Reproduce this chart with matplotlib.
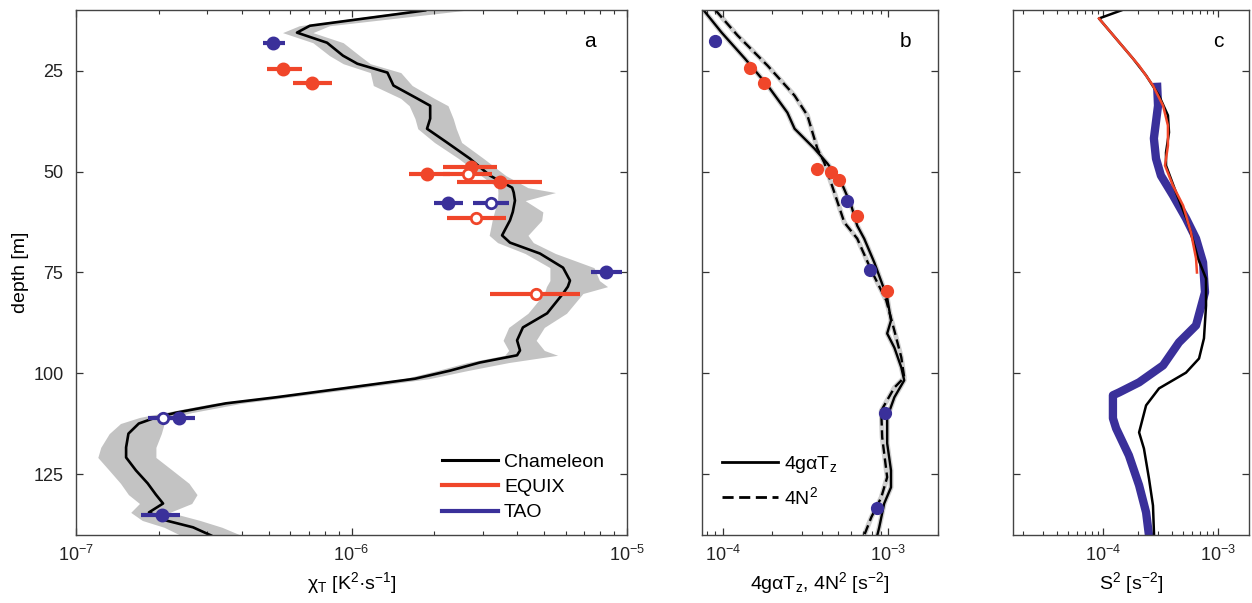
import matplotlib
matplotlib.use('Agg')
import matplotlib.pyplot as plt
import numpy as np
from matplotlib.ticker import LogLocator, NullFormatter, NullLocator
from matplotlib.lines import Line2D

plt.rcParams['font.family'] = ['Liberation Sans', 'DejaVu Sans']
plt.rcParams['mathtext.default'] = 'regular'

RED = '#F0462A'
BLUE = '#3A309A'
GRAY = '#C3C3C3'

# ---------------- Panel a : chi_T ----------------
cham_depth = [10.1, 13.9, 15.6, 18.1, 21.3, 23.3, 25.5, 28.7, 31.9, 33.7, 36.9, 39.4, 42.8, 46.8,
              51.0, 54.0, 55.2, 57.2, 60.0, 62.1, 65.8, 67.6, 70.3, 73.8, 77.0, 78.5, 80.2, 85.1,
              88.6, 91.8, 94.3, 95.5, 97.3, 99.3, 101.3, 103.7, 105.9, 107.4, 109.7, 110.9, 112.4,
              114.9, 118.3, 120.8, 124.0, 127.2, 130.0, 132.2, 134.4, 136.4, 138.1, 140.1]
cham_chi = [1.85e-6, 7.06e-7, 6.34e-7, 8.15e-7, 9.31e-7, 1.05e-6, 1.35e-6, 1.42e-6, 1.73e-6, 1.93e-6,
            1.93e-6, 1.88e-6, 2.22e-6, 2.69e-6, 3.18e-6, 3.83e-6, 3.88e-6, 3.92e-6, 3.85e-6, 3.76e-6,
            3.52e-6, 3.76e-6, 4.83e-6, 5.86e-6, 6.21e-6, 6.10e-6, 5.86e-6, 5.13e-6, 4.19e-6, 3.99e-6,
            4.09e-6, 3.99e-6, 2.92e-6, 2.28e-6, 1.70e-6, 9.31e-7, 5.32e-7, 3.50e-7, 2.31e-7, 1.95e-7,
            1.69e-7, 1.55e-7, 1.52e-7, 1.52e-7, 1.65e-7, 1.82e-7, 1.95e-7, 2.07e-7, 1.84e-7, 2.12e-7,
            2.66e-7, 3.09e-7]
cham_lo = [1.66e-6, 6.46e-7, 5.62e-7, 7.24e-7, 8.32e-7, 9.33e-7, 1.17e-6, 1.20e-6, 1.51e-6, 1.62e-6,
           1.70e-6, 1.74e-6, 2.00e-6, 2.45e-6, 2.95e-6, 3.39e-6, 3.40e-6, 3.39e-6, 3.30e-6, 3.24e-6,
           3.16e-6, 3.39e-6, 4.27e-6, 5.25e-6, 5.25e-6, 5.10e-6, 5.01e-6, 4.37e-6, 3.72e-6, 3.55e-6,
           3.72e-6, 3.60e-6, 2.63e-6, 2.04e-6, 1.55e-6, 8.51e-7, 4.90e-7, 3.16e-7, 2.09e-7, 1.70e-7,
           1.45e-7, 1.32e-7, 1.23e-7, 1.20e-7, 1.32e-7, 1.45e-7, 1.55e-7, 1.70e-7, 1.58e-7, 1.74e-7,
           2.09e-7, 2.40e-7]
cham_hi = [2.57e-6, 8.32e-7, 7.24e-7, 9.33e-7, 1.07e-6, 1.17e-6, 1.51e-6, 1.66e-6, 2.00e-6, 2.24e-6,
           2.34e-6, 2.40e-6, 2.51e-6, 3.02e-6, 3.63e-6, 4.37e-6, 5.50e-6, 4.27e-6, 4.95e-6, 4.90e-6,
           4.37e-6, 4.57e-6, 5.50e-6, 7.59e-6, 7.94e-6, 8.50e-6, 6.92e-6, 6.03e-6, 5.01e-6, 4.68e-6,
           5.01e-6, 5.60e-6, 3.72e-6, 2.63e-6, 1.91e-6, 1.05e-6, 5.89e-7, 3.98e-7, 2.63e-7, 2.24e-7,
           2.09e-7, 2.04e-7, 1.95e-7, 1.95e-7, 2.24e-7, 2.57e-7, 2.75e-7, 2.63e-7, 2.19e-7, 2.82e-7,
           3.39e-7, 3.98e-7]

equix_f_depth = [24.5, 28.0, 49.0, 50.7, 52.7]
equix_f_chi = [5.64e-7, 7.19e-7, 2.72e-6, 1.88e-6, 3.46e-6]
equix_f_lo = [4.93e-7, 6.14e-7, 2.15e-6, 1.62e-6, 2.42e-6]
equix_f_hi = [6.61e-7, 8.49e-7, 3.37e-6, 2.28e-6, 4.91e-6]
equix_o_depth = [50.7, 61.6, 80.4]
equix_o_chi = [2.65e-6, 2.83e-6, 4.68e-6]
equix_o_lo = [2.15e-6, 2.22e-6, 3.18e-6]
equix_o_hi = [3.24e-6, 3.64e-6, 6.75e-6]
tao_f_depth = [18.1, 57.7, 74.8, 111.1, 135.0]
tao_f_chi = [5.19e-7, 2.24e-6, 8.40e-6, 2.37e-7, 2.05e-7]
tao_f_lo = [4.78e-7, 1.99e-6, 7.39e-6, 2.07e-7, 1.72e-7]
tao_f_hi = [5.74e-7, 2.54e-6, 9.59e-6, 2.70e-7, 2.39e-7]
tao_o_depth = [57.7, 111.1]
tao_o_chi = [3.21e-6, 2.07e-7]
tao_o_lo = [2.76e-6, 1.82e-7]
tao_o_hi = [3.73e-6, 2.34e-7]

# ---------------- Panel b : 4 g alpha Tz, 4 N^2 ----------------
tz_depth = [10.1, 15.6, 22.0, 28.7, 35.4, 39.4, 44.3, 48.0, 52.7, 58.4, 63.4, 66.6, 72.5, 81.2,
            86.9, 90.1, 93.6, 98.5, 101.7, 105.9, 110.9, 117.3, 124.0, 128.2, 132.2, 138.1, 140.1]
tz_val = [7.69e-5, 9.86e-5, 1.36e-4, 1.87e-4, 2.46e-4, 2.72e-4, 3.58e-4, 4.29e-4, 5.21e-4, 5.98e-4,
          6.50e-4, 7.16e-4, 8.24e-4, 9.86e-4, 1.04e-3, 9.86e-4, 1.09e-3, 1.20e-3, 1.25e-3, 1.09e-3,
          9.86e-4, 9.86e-4, 1.04e-3, 1.04e-3, 9.46e-4, 8.83e-4, 8.59e-4]
n2_depth = [10.1, 16.3, 23.8, 31.2, 36.1, 44.3, 47.8, 55.2, 62.6, 66.6, 74.5, 81.9, 89.4, 96.0,
            101.0, 103.5, 109.2, 115.8, 125.7, 130.7, 135.6, 140.1]
n2_val = [9.07e-5, 1.23e-4, 1.87e-4, 2.72e-4, 3.25e-4, 3.73e-4, 4.11e-4, 4.73e-4, 5.43e-4, 6.50e-4,
          7.91e-4, 9.73e-4, 1.09e-3, 1.20e-3, 1.25e-3, 1.09e-3, 9.08e-4, 9.20e-4, 9.86e-4, 9.08e-4,
          7.91e-4, 7.16e-4]
b_equix_depth = [24.3, 28.0, 49.3, 50.2, 52.0, 61.1, 79.5]
b_equix_val = [1.46e-4, 1.77e-4, 3.73e-4, 4.54e-4, 5.07e-4, 6.50e-4, 9.86e-4]
b_tao_depth = [17.8, 57.4, 74.3, 109.7, 133.2]
b_tao_val = [8.95e-5, 5.66e-4, 7.80e-4, 9.59e-4, 8.59e-4]

# ---------------- Panel c : S^2 ----------------
s2_cham_depth = [10.1, 12.1, 17.1, 22.0, 26.2, 31.2, 36.1, 40.3, 45.3, 48.5, 55.2, 62.6, 71.5, 76.5,
                 83.2, 91.3, 96.3, 99.8, 103.7, 107.9, 114.6, 118.6, 126.0, 132.7, 140.1]
s2_cham_val = [1.44e-4, 9.23e-5, 1.30e-4, 1.82e-4, 2.37e-4, 3.07e-4, 3.67e-4, 3.75e-4, 3.53e-4, 3.53e-4,
               4.32e-4, 5.48e-4, 6.70e-4, 7.87e-4, 7.87e-4, 7.55e-4, 6.84e-4, 5.27e-4, 3.07e-4, 2.37e-4,
               2.06e-4, 2.27e-4, 2.51e-4, 2.72e-4, 2.78e-4]
s2_equix_depth = [12.1, 17.1, 23.8, 28.7, 33.7, 38.6, 43.6, 48.5, 53.5, 58.4, 65.1, 71.5, 75.0]
s2_equix_val = [9.23e-5, 1.30e-4, 2.06e-4, 2.72e-4, 3.33e-4, 3.67e-4, 3.67e-4, 3.46e-4, 4.06e-4, 4.97e-4,
                5.82e-4, 6.44e-4, 6.56e-4]
s2_tao_depth = [28.0, 33.7, 41.8, 46.8, 51.0, 55.9, 61.6, 66.6, 72.5, 79.9, 88.1, 92.3, 98.0, 102.2,
                104.7, 105.4, 111.1, 113.6, 120.3, 127.7, 134.4, 140.1]
s2_tao_val = [2.95e-4, 3.01e-4, 2.77e-4, 2.89e-4, 3.19e-4, 4.06e-4, 5.27e-4, 6.44e-4, 7.41e-4, 7.71e-4,
              6.44e-4, 4.58e-4, 3.33e-4, 2.06e-4, 1.38e-4, 1.22e-4, 1.22e-4, 1.30e-4, 1.68e-4, 2.06e-4,
              2.37e-4, 2.51e-4]

depth_ticks = [25, 50, 75, 100, 125]

fig = plt.figure(figsize=(12.52, 6.03), dpi=100)
W, H = 1252, 603
def axes_px(x0, x1, y0, y1):
    return fig.add_axes([x0 / W, 1 - y1 / H, (x1 - x0) / W, (y1 - y0) / H])

ax_a = axes_px(76, 627, 10, 535)
ax_b = axes_px(702, 938, 10, 535)
ax_c = axes_px(1013, 1249, 10, 535)

def style(ax, xlim, ylabels=True):
    ax.set_xscale('log')
    ax.set_xlim(*xlim)
    ax.set_ylim(140, 10)
    ax.set_yticks(depth_ticks)
    ax.yaxis.set_minor_locator(NullLocator())
    ax.xaxis.set_major_locator(LogLocator(base=10, numticks=12))
    ax.xaxis.set_minor_locator(LogLocator(base=10, subs=np.arange(2, 10), numticks=12))
    ax.xaxis.set_minor_formatter(NullFormatter())
    ax.tick_params(which='both', direction='in', top=True, right=True,
                   color='#333333', labelcolor='#222222', labelsize=13)
    ax.tick_params(which='major', length=5, width=0.9)
    ax.tick_params(which='minor', length=3, width=0.8)
    ax.tick_params(axis='x', pad=7)
    ax.tick_params(axis='y', pad=9, labelleft=ylabels)
    for s in ax.spines.values():
        s.set_color('#444444')
        s.set_linewidth(1.0)

# ---- panel a
style(ax_a, (1e-7, 1e-5))
ax_a.fill_betweenx(cham_depth, cham_lo, cham_hi, color=GRAY, lw=0, zorder=1)
ax_a.plot(cham_chi, cham_depth, color='black', lw=1.9, zorder=2)

def ebar(ax, d, c, lo, hi, color, filled):
    c = np.array(c); lo = np.array(lo); hi = np.array(hi)
    ax.errorbar(c, d, xerr=[c - lo, hi - c], fmt='o', color=color, ecolor=color,
                elinewidth=3, capsize=0, ms=8 if filled else 7.5,
                mfc=color if filled else 'white', mec=color, mew=2, zorder=4)

ebar(ax_a, equix_f_depth, equix_f_chi, equix_f_lo, equix_f_hi, RED, True)
ebar(ax_a, equix_o_depth, equix_o_chi, equix_o_lo, equix_o_hi, RED, False)
ebar(ax_a, tao_f_depth, tao_f_chi, tao_f_lo, tao_f_hi, BLUE, True)
ebar(ax_a, tao_o_depth, tao_o_chi, tao_o_lo, tao_o_hi, BLUE, False)

handles = [Line2D([], [], color='black', lw=2.2), Line2D([], [], color=RED, lw=3),
           Line2D([], [], color=BLUE, lw=3)]
ax_a.legend(handles, ['Chameleon', 'EQUIX', 'TAO'], loc='upper left',
            bbox_to_anchor=(0.664, 0.156), frameon=False, fontsize=14, borderpad=0,
            borderaxespad=0, handlelength=2.9, handletextpad=0.3, labelspacing=0.4)
ax_a.set_ylabel('depth [m]', fontsize=14, labelpad=3)
ax_a.set_xlabel('χ$_T$ [K$^2$·s$^{-1}$]', fontsize=14, labelpad=4)
ax_a.text(0.933, 0.94, 'a', transform=ax_a.transAxes, fontsize=15, ha='center', va='center')

# ---- panel b
style(ax_b, (7.5e-5, 2e-3), ylabels=False)
ax_b.plot(tz_val, tz_depth, color='#CFCFCF', lw=3.6, zorder=1, solid_capstyle='round')
ax_b.plot(n2_val, n2_depth, color='#CFCFCF', lw=3.6, zorder=1, solid_capstyle='round')
ax_b.plot(tz_val, tz_depth, color='black', lw=1.7, zorder=2)
ax_b.plot(n2_val, n2_depth, color='black', lw=1.7, ls=(0, (4, 2)), zorder=2)
ax_b.plot(b_equix_val, b_equix_depth, 'o', color=RED, ms=8.5, mec=RED, zorder=3)
ax_b.plot(b_tao_val, b_tao_depth, 'o', color=BLUE, ms=8.5, mec=BLUE, zorder=3)
hb = [Line2D([], [], color='black', lw=2), Line2D([], [], color='black', lw=2, ls=(0, (4, 2)))]
ax_b.legend(hb, ['4gαT$_z$', '4N$^2$'], loc='upper left', bbox_to_anchor=(0.085, 0.155),
            frameon=False, fontsize=14, borderpad=0, borderaxespad=0, handlelength=2.9,
            handletextpad=0.3, labelspacing=0.6)
ax_b.set_xlabel('4gαT$_z$, 4N$^2$ [s$^{-2}$]', fontsize=14, labelpad=4)
ax_b.text(0.86, 0.94, 'b', transform=ax_b.transAxes, fontsize=15, ha='center', va='center')

# ---- panel c
style(ax_c, (1.65e-5, 1.86e-3), ylabels=False)
ax_c.plot(s2_tao_val, s2_tao_depth, color=BLUE, lw=6, zorder=1, solid_capstyle='butt')
ax_c.plot(s2_cham_val, s2_cham_depth, color='black', lw=1.8, zorder=2)
ax_c.plot(s2_equix_val, s2_equix_depth, color=RED, lw=1.8, zorder=3)
ax_c.set_xlabel('S$^2$ [s$^{-2}$]', fontsize=14, labelpad=4)
ax_c.text(0.87, 0.94, 'c', transform=ax_c.transAxes, fontsize=15, ha='center', va='center')

fig.savefig('out.png', dpi=100)
